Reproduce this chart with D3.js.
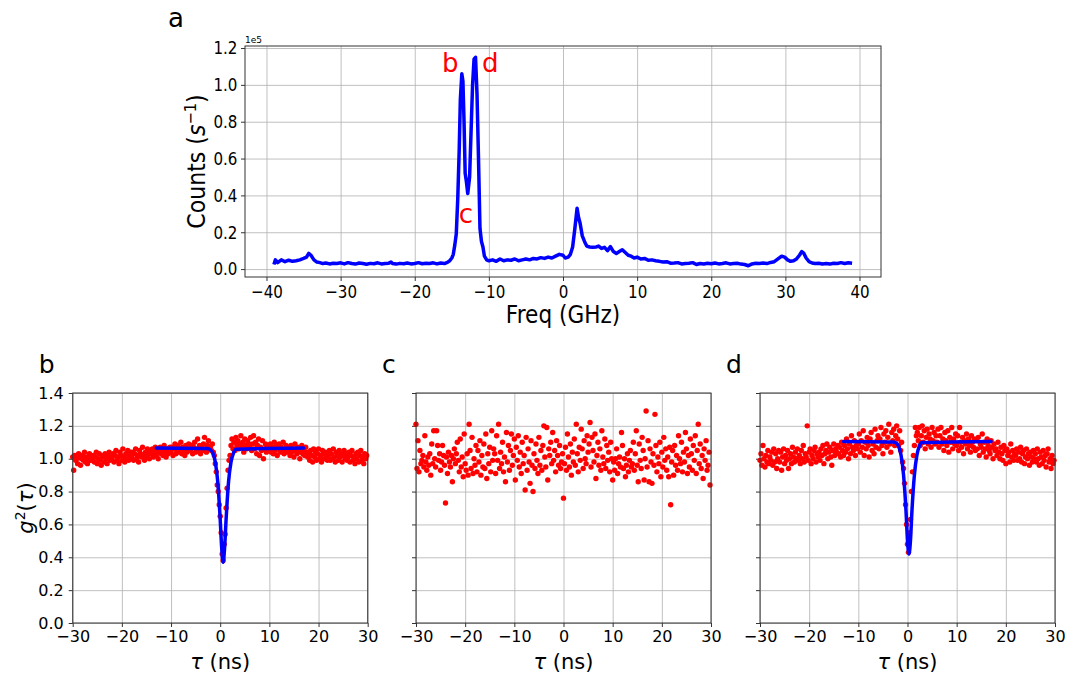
<!DOCTYPE html>
<html>
<head>
<meta charset="utf-8">
<script src="https://cdn.jsdelivr.net/npm/d3@7"></script>
<style>
  body { margin: 0; background: #fff; }
  svg text { font-family: "DejaVu Sans", sans-serif; fill: #000; }
  .grid line { stroke: #b0b0b0; stroke-width: 0.8; }
  .grid path { display: none; }
  .axis path { display: none; }
  .axis line { stroke: #333; }
</style>
</head>
<body>
<svg id="fig" width="1066" height="675"></svg>
<script>
// ---- panel a : spectrum (counts in units of 1e5 s^-1)
const freq = [-39.0, -38.8, -38.5, -38.0, -37.5, -37.0, -36.5, -36.0, -35.5, -35.0, -34.6, -34.3, -34.0, -33.6, -33.2, -32.8, -32.4, -32.0, -31.5, -31.0,
  -30.5, -30.0, -29.5, -29.0, -28.5, -28.0, -27.5, -27.0, -26.5, -26.0, -25.5, -25.0, -24.5, -24.0, -23.5, -23.2, -23.0, -22.5, -22.0, -21.5,
  -21.0, -20.5, -20.0, -19.5, -19.0, -18.5, -18.0, -17.5, -17.0, -16.5, -16.0, -15.6, -15.3, -15.0, -14.8, -14.6, -14.4, -14.2, -14.0, -13.85,
  -13.65, -13.5, -13.35, -13.2, -13.05, -12.85, -12.6, -12.4, -12.2, -12.0, -11.8, -11.6, -11.4, -11.2, -11.0, -10.8, -10.6, -10.3, -10.0, -9.5,
  -9.0, -8.5, -8.0, -7.5, -7.0, -6.5, -6.0, -5.5, -5.0, -4.5, -4.0, -3.5, -3.0, -2.5, -2.0, -1.5, -1.0, -0.5, 0.0, 0.3,
  0.7, 1.0, 1.3, 1.6, 1.9, 2.1, 2.3, 2.6, 2.9, 3.2, 3.6, 4.0, 4.5, 4.8, 5.2, 5.6, 6.0, 6.4, 6.8, 7.2,
  7.6, 8.0, 8.4, 8.8, 9.2, 9.6, 10.0, 10.5, 11.0, 11.5, 12.0, 12.5, 13.0, 13.5, 14.0, 14.5, 15.0, 15.5, 16.0, 16.5,
  17.0, 17.5, 18.0, 18.5, 19.0, 19.5, 20.0, 20.5, 21.0, 21.5, 22.0, 22.5, 23.0, 23.5, 24.0, 24.5, 25.0, 25.5, 26.0, 26.5,
  27.0, 27.5, 28.0, 28.5, 29.0, 29.5, 29.9, 30.3, 30.7, 31.1, 31.5, 31.9, 32.2, 32.5, 32.8, 33.2, 33.6, 34.0, 34.5, 35.0,
  35.5, 36.0, 36.5, 37.0, 37.5, 38.0, 38.5, 39.0];
const counts = [0.025, 0.05, 0.035, 0.05, 0.04, 0.048, 0.042, 0.045, 0.05, 0.058, 0.065, 0.085, 0.075, 0.05, 0.038, 0.035, 0.03, 0.033, 0.028, 0.032,
  0.03, 0.034, 0.028, 0.035, 0.03, 0.027, 0.033, 0.03, 0.026, 0.031, 0.029, 0.034, 0.028, 0.03, 0.032, 0.038, 0.03, 0.027, 0.031, 0.029,
  0.033, 0.028, 0.03, 0.035, 0.029, 0.032, 0.03, 0.034, 0.028, 0.033, 0.03, 0.036, 0.045, 0.06, 0.08, 0.13, 0.19, 0.38, 0.65, 0.92,
  1.06, 1.02, 0.8, 0.52, 0.48, 0.41, 0.5, 0.75, 1.0, 1.14, 1.15, 0.95, 0.6, 0.22, 0.15, 0.12, 0.07, 0.05, 0.045, 0.05,
  0.042, 0.055, 0.045, 0.05, 0.048, 0.055, 0.045, 0.05, 0.055, 0.05, 0.058, 0.055, 0.062, 0.058, 0.065, 0.06, 0.07, 0.08, 0.075, 0.06,
  0.065, 0.08, 0.12, 0.22, 0.33, 0.28, 0.25, 0.18, 0.15, 0.125, 0.12, 0.118, 0.12, 0.125, 0.112, 0.118, 0.1, 0.122, 0.095, 0.085,
  0.095, 0.105, 0.09, 0.075, 0.07, 0.06, 0.065, 0.055, 0.058, 0.048, 0.05, 0.045, 0.042, 0.038, 0.04, 0.032, 0.033, 0.035, 0.028, 0.03,
  0.032, 0.035, 0.025, 0.03, 0.028, 0.032, 0.029, 0.033, 0.028, 0.03, 0.034, 0.028, 0.03, 0.032, 0.027, 0.025, 0.018, 0.028, 0.032, 0.03,
  0.033, 0.03, 0.036, 0.04, 0.055, 0.07, 0.065, 0.05, 0.042, 0.045, 0.055, 0.075, 0.095, 0.085, 0.06, 0.04, 0.033, 0.03, 0.032, 0.028,
  0.03, 0.027, 0.032, 0.03, 0.035, 0.03, 0.034, 0.032];
const peakLabels = [
  {text: "b", f: -15.2, v: 1.07},
  {text: "d", f: -9.8, v: 1.07},
  {text: "c", f: -13.1, v: 0.25}
];

// ---- panels b, c, d : g2(tau), time bins of 0.2 ns from -30 ns
const tauBins = d3.range(300).map((i) => -30 + i * 0.2);
const g2B = [
  1.01, 0.93, 1.02, 0.99, 1.00, 0.97, 1.03, 1.01, 0.96, 1.00, 1.02, 0.99, 1.04, 0.98, 1.01, 0.97, 1.00, 1.03, 0.99, 1.02,
  0.99, 1.02, 0.98, 1.01, 1.04, 0.97, 1.00, 1.03, 0.99, 0.96, 1.01, 1.02, 0.98, 1.03, 1.00, 0.97, 1.02, 1.04, 0.99, 1.01,
  1.00, 1.03, 0.98, 1.02, 1.05, 0.99, 1.01, 0.97, 1.04, 1.02, 0.99, 1.06, 1.01, 0.98, 1.03, 1.00, 1.05, 0.99, 1.02, 1.04,
  1.01, 1.04, 0.99, 1.03, 1.06, 1.00, 1.02, 0.98, 1.05, 1.03, 1.01, 1.07, 1.02, 0.99, 1.04, 1.01, 1.06, 1.03, 1.00, 1.05,
  1.03, 1.06, 1.01, 1.04, 1.07, 1.02, 1.05, 1.00, 1.04, 1.07, 1.03, 1.05, 1.02, 1.08, 1.04, 1.01, 1.06, 1.03, 1.05, 1.07,
  1.04, 1.07, 1.02, 1.06, 1.09, 1.03, 1.05, 1.08, 1.04, 1.06, 1.10, 1.03, 1.07, 1.05, 1.02, 1.08, 1.04, 1.06, 1.09, 1.05,
  1.05, 1.08, 1.03, 1.07, 1.10, 1.04, 1.06, 1.12, 1.05, 1.08, 1.03, 1.07, 1.05, 1.09, 1.13, 1.06, 1.04, 1.08, 1.11, 1.06,
  1.07, 1.05, 1.09, 1.04, 1.02, 0.97, 0.92, 0.84, 0.80, 0.72, 0.65, 0.55, 0.42, 0.38, 0.48, 0.54, 0.70, 0.82, 0.93, 0.99,
  1.02, 1.08, 1.12, 1.06, 1.10, 1.05, 1.13, 1.08, 1.11, 1.06, 1.09, 1.14, 1.07, 1.10, 1.04, 1.12, 1.08, 1.06, 1.11, 1.09,
  1.07, 1.13, 1.05, 1.09, 1.14, 1.06, 1.10, 1.03, 1.08, 1.12, 1.02, 1.07, 1.05, 1.11, 1.00, 1.06, 1.09, 1.04, 1.08, 1.05,
  1.06, 1.09, 1.04, 1.07, 1.03, 1.10, 1.05, 1.08, 1.02, 1.06, 1.09, 1.04, 1.07, 1.05, 1.10, 1.03, 1.06, 1.08, 1.04, 1.07,
  1.05, 1.02, 1.08, 1.04, 1.06, 1.01, 1.09, 1.05, 1.03, 1.07, 1.04, 1.00, 1.06, 1.08, 1.03, 1.05, 1.02, 1.07, 1.04, 1.01,
  1.03, 0.99, 1.05, 1.02, 0.98, 1.06, 1.01, 1.04, 0.99, 1.03, 1.06, 1.00, 1.02, 0.98, 1.05, 1.03, 1.00, 1.04, 1.01, 0.99,
  1.02, 1.05, 0.99, 1.03, 1.00, 1.06, 1.01, 0.98, 1.04, 1.02, 0.99, 1.05, 1.01, 1.03, 0.98, 1.02, 1.05, 1.00, 1.03, 0.99,
  1.01, 1.04, 0.98, 1.02, 1.05, 0.99, 1.01, 0.97, 1.03, 1.00, 1.04, 0.98, 1.02, 1.05, 0.99, 1.01, 0.97, 1.03, 1.00, 1.02
];
const g2C = [
  1.21, 0.94, 1.11, 0.92, 1.05, 0.97, 0.99, 1.02, 0.95, 1.14, 0.98, 0.93, 1.01, 0.96, 1.03, 0.90, 1.09, 0.97, 1.17, 1.00,
  0.95, 1.17, 1.08, 0.99, 1.03, 0.93, 0.98, 1.08, 1.02, 0.96, 0.73, 1.01, 0.91, 1.04, 0.98, 0.95, 1.02, 0.86, 1.00, 1.06,
  0.97, 1.03, 1.10, 0.99, 0.92, 1.12, 0.95, 1.01, 0.89, 1.15, 0.97, 0.93, 1.03, 0.90, 1.21, 1.05, 0.94, 1.13, 0.91, 1.00,
  0.96, 1.08, 0.92, 1.05, 0.98, 1.11, 0.90, 1.02, 0.95, 1.09, 0.94, 1.15, 0.88, 1.03, 0.97, 1.07, 0.92, 1.17, 0.99, 1.06,
  1.03, 0.91, 1.14, 0.99, 1.21, 0.94, 1.04, 0.97, 1.10, 0.92, 1.01, 0.86, 1.16, 0.98, 1.08, 0.93, 1.05, 1.15, 0.96, 1.02,
  1.12, 0.87, 1.07, 0.99, 1.14, 0.95, 1.04, 0.91, 1.10, 0.97, 1.02, 0.81, 1.13, 0.93, 1.06, 0.98, 0.85, 1.11, 0.96, 0.80,
  1.03, 0.94, 1.09, 0.99, 0.91, 1.13, 0.96, 1.05, 0.93, 1.08, 1.20, 1.01, 0.95, 1.19, 0.87, 1.06, 1.02, 1.10, 0.97, 1.16,
  0.99, 1.05, 0.92, 1.11, 1.02, 0.96, 1.08, 0.94, 0.98, 1.03, 0.76, 0.97, 1.07, 0.93, 1.15, 1.01, 0.95, 1.09, 0.90, 1.04,
  0.98, 1.12, 0.96, 1.21, 1.03, 0.92, 1.07, 0.99, 1.18, 1.06, 0.94, 1.11, 1.00, 0.97, 1.14, 1.04, 1.09, 1.22, 0.95, 1.13,
  1.05, 0.98, 1.15, 0.88, 1.02, 1.10, 0.96, 1.06, 0.93, 1.17, 1.01, 0.97, 1.12, 0.94, 1.08, 0.99, 1.04, 0.92, 1.10, 1.00,
  0.87, 0.98, 0.93, 1.00, 1.06, 0.91, 0.97, 1.01, 0.95, 1.16, 1.08, 0.94, 1.00, 0.89, 0.96, 1.03, 0.92, 0.99, 1.05, 0.95,
  0.97, 1.10, 0.93, 1.03, 1.17, 0.96, 0.86, 1.09, 0.99, 0.94, 1.13, 1.05, 0.87, 1.00, 1.29, 0.95, 1.11, 0.86, 1.06, 0.98,
  0.85, 1.03, 0.96, 1.27, 1.08, 0.92, 1.01, 0.97, 1.10, 0.89, 1.04, 0.95, 1.13, 0.99, 1.06, 0.93, 1.01, 0.89, 1.07, 0.72,
  0.98, 1.05, 0.90, 1.08, 0.96, 1.02, 0.93, 1.14, 1.00, 0.97, 1.10, 0.92, 1.04, 0.98, 1.16, 1.06, 0.91, 1.02, 0.95, 1.12,
  1.03, 0.93, 1.08, 0.99, 1.14, 0.91, 1.05, 1.21, 0.97, 1.09, 0.94, 1.02, 0.88, 1.06, 0.99, 1.11, 0.93, 0.96, 1.04, 0.84
];
const g2D = [
  0.99, 1.03, 0.96, 1.08, 1.00, 0.95, 1.02, 0.98, 1.05, 0.97, 1.01, 0.99, 1.04, 0.96, 1.06, 0.98, 1.03, 0.94, 1.00, 1.05,
  0.98, 1.04, 0.93, 1.01, 1.06, 0.97, 1.02, 0.99, 1.05, 0.94, 1.00, 1.03, 0.97, 1.07, 1.01, 0.98, 1.04, 1.00, 1.06, 0.99,
  1.02, 0.97, 1.05, 1.00, 1.08, 0.98, 1.03, 1.01, 1.20, 0.99, 1.04, 1.06, 0.97, 1.02, 1.00, 1.05, 1.07, 0.98, 1.03, 1.01,
  1.04, 0.99, 1.06, 1.02, 1.08, 0.97, 1.03, 1.05, 1.09, 1.00, 1.04, 1.07, 1.01, 0.96, 1.05, 1.09, 1.02, 1.06, 1.04, 1.08,
  1.03, 1.07, 1.01, 1.10, 1.05, 1.02, 1.08, 1.04, 1.12, 1.06, 1.00, 1.09, 1.03, 1.14, 1.07, 1.05, 1.11, 1.02, 1.08, 1.06,
  1.09, 1.15, 1.04, 1.11, 1.07, 1.17, 1.02, 1.10, 1.06, 1.13, 1.08, 1.01, 1.12, 1.16, 1.05, 1.09, 1.03, 1.18, 1.07, 1.11,
  1.14, 1.06, 1.12, 1.19, 1.08, 1.03, 1.15, 1.10, 1.17, 1.07, 1.13, 1.21, 1.09, 1.04, 1.16, 1.11, 1.18, 1.08, 1.14, 1.20,
  1.12, 1.08, 1.17, 1.05, 1.10, 0.98, 0.94, 0.85, 0.72, 0.60, 0.48, 0.43, 0.55, 0.63, 0.80, 0.92, 1.02, 1.08, 1.19, 1.14,
  1.16, 1.11, 1.19, 1.08, 1.14, 1.20, 1.10, 1.17, 1.06, 1.13, 1.18, 1.09, 1.15, 1.12, 1.07, 1.19, 1.11, 1.16, 1.09, 1.14,
  1.10, 1.18, 1.07, 1.14, 1.19, 1.09, 1.12, 1.05, 1.16, 1.11, 1.08, 1.17, 1.04, 1.13, 1.10, 1.19, 1.06, 1.12, 1.09, 1.15,
  1.08, 1.14, 1.05, 1.19, 1.10, 1.07, 1.13, 1.03, 1.11, 1.09, 1.15, 1.06, 1.12, 1.08, 1.04, 1.14, 1.10, 1.07, 1.12, 1.05,
  1.11, 1.06, 1.13, 1.02, 1.09, 1.07, 1.15, 1.04, 1.10, 1.06, 1.01, 1.12, 1.08, 1.05, 1.03, 1.11, 1.07, 1.00, 1.09, 1.05,
  1.06, 1.02, 1.10, 1.04, 1.00, 1.07, 1.03, 0.99, 1.08, 1.05, 0.97, 1.06, 1.02, 1.04, 0.98, 1.09, 1.01, 1.05, 0.99, 1.03,
  1.02, 1.06, 0.99, 1.04, 1.00, 1.07, 0.98, 1.03, 1.05, 0.97, 1.01, 1.06, 1.00, 1.03, 0.96, 1.04, 1.01, 0.98, 1.05, 1.00,
  1.03, 0.98, 1.06, 1.00, 0.96, 1.04, 1.01, 0.97, 1.05, 0.99, 1.02, 0.95, 1.03, 1.06, 0.98, 1.00, 0.94, 1.02, 0.97, 0.99
];
// fitted curves
const fitTauB = [-13, -2.5, -2.0, -1.5, -1.0, -0.5, 0.0, 0.3, 0.6, 0.9, 1.2, 1.7, 2.2, 2.7, 3.2, 17];
const fitG2B = [1.065, 1.062, 1.055, 1.035, 0.98, 0.86, 0.63, 0.46, 0.37, 0.46, 0.63, 0.86, 0.98, 1.035, 1.058, 1.065];
const fitTauD = [-13, -2.8, -2.3, -1.8, -1.3, -0.8, -0.3, 0.0, 0.3, 0.6, 0.9, 1.4, 1.9, 2.4, 2.9, 17];
const fitG2D = [1.105, 1.102, 1.095, 1.075, 1.02, 0.90, 0.68, 0.50, 0.42, 0.50, 0.68, 0.90, 1.02, 1.075, 1.098, 1.105];

const freqTicks = [-40, -30, -20, -10, 0, 10, 20, 30, 40];
const countTicks = [0.0, 0.2, 0.4, 0.6, 0.8, 1.0, 1.2];
const tauTicks = [-30, -20, -10, 0, 10, 20, 30];
const g2Ticks = [0.0, 0.2, 0.4, 0.6, 0.8, 1.0, 1.2, 1.4];

const svg = d3.select('#fig');
svg.append('rect').attr('width', 1066).attr('height', 675).attr('fill', '#fff');

function drawFrame(g, width, height) {
  g.append('rect')
    .attr('width', width).attr('height', height)
    .attr('fill', 'none').attr('stroke', '#333').attr('stroke-width', 1);
}

function drawGrid(g, xscale, yscale, xticks, yticks, width, height) {
  g.append('g').attr('class', 'grid')
    .attr('transform', `translate(0,${height})`)
    .call(d3.axisBottom(xscale).tickValues(xticks).tickSize(-height).tickFormat(''));
  g.append('g').attr('class', 'grid')
    .call(d3.axisLeft(yscale).tickValues(yticks).tickSize(-width).tickFormat(''));
}

function createSpectrum() {
  const margin = {left: 245, top: 46};
  const width = 636, height = 231;
  // the top panel was drawn with a horizontally squeezed font
  const squeeze = 'scale(0.84,1)';
  const g = svg.append('g')
    .attr('transform', `translate(${margin.left},${margin.top})`);

  const xscale = d3.scaleLinear().domain([-42.9, 42.9]).range([0, width]);
  const yscale = d3.scaleLinear().domain([-0.043, 1.211]).range([height, 0]);

  drawGrid(g, xscale, yscale, freqTicks, countTicks, width, height);

  const gx = g.append('g').attr('class', 'axis')
    .attr('transform', `translate(0,${height})`)
    .call(d3.axisBottom(xscale).tickValues(freqTicks).tickSize(4).tickPadding(4));
  gx.selectAll('text').style('font-size', '18px').attr('transform', squeeze);
  const gy = g.append('g').attr('class', 'axis')
    .call(d3.axisLeft(yscale).tickValues(countTicks).tickFormat(d3.format('.1f')).tickSize(4).tickPadding(5));
  gy.selectAll('text').style('font-size', '18px').attr('transform', squeeze);

  const line = d3.line().x((d) => xscale(d[0])).y((d) => yscale(d[1]));
  g.append('path')
    .datum(freq.map((f, i) => [f, counts[i]]))
    .attr('d', line)
    .attr('fill', 'none').attr('stroke', '#0000ff')
    .attr('stroke-width', 3.5).attr('stroke-linejoin', 'round');

  g.selectAll('.peak').data(peakLabels).enter().append('text')
    .attr('class', 'peak')
    .attr('x', (d) => xscale(d.f)).attr('y', (d) => yscale(d.v))
    .attr('text-anchor', 'middle')
    .style('fill', '#ff0000').style('font-size', '26px')
    .text((d) => d.text);

  drawFrame(g, width, height);

  g.append('text').attr('x', 0).attr('y', -3).style('font-size', '9px').text('1e5');
  g.append('text').attr('transform', `translate(${width / 2},${height + 46}) scale(0.9,1)`)
    .attr('text-anchor', 'middle').style('font-size', '24px').text('Freq (GHz)');
  const yl = g.append('text')
    .attr('transform', `translate(-40,${height / 2}) rotate(-90) scale(0.92,1)`)
    .attr('text-anchor', 'middle').style('font-size', '24px');
  yl.append('tspan').text('Counts (');
  yl.append('tspan').style('font-style', 'italic').text('s');
  yl.append('tspan').attr('dy', -9).style('font-size', '16px').text('−1');
  yl.append('tspan').attr('dy', 9).text(')');

  svg.append('text').attr('x', 168).attr('y', 27).style('font-size', '26px').text('a');
}

function createG2Panel(left, letter, values, fitTau, fitG2, showY) {
  const top = 393;
  const width = 295, height = 230;
  const g = svg.append('g').attr('transform', `translate(${left},${top})`);

  const xscale = d3.scaleLinear().domain([-30, 30]).range([0, width]);
  const yscale = d3.scaleLinear().domain([0, 1.4]).range([height, 0]);

  drawGrid(g, xscale, yscale, tauTicks, g2Ticks, width, height);

  const gx = g.append('g').attr('class', 'axis')
    .attr('transform', `translate(0,${height})`)
    .call(d3.axisBottom(xscale).tickValues(tauTicks).tickSize(4).tickPadding(4));
  gx.selectAll('text').style('font-size', '16px');
  const gy = g.append('g').attr('class', 'axis')
    .call(d3.axisLeft(yscale).tickValues(g2Ticks).tickFormat(showY ? d3.format('.1f') : '').tickSize(4).tickPadding(5));
  gy.selectAll('text').style('font-size', '16px');

  const pts = tauBins.map((t, i) => ({t, v: values[i]}));
  g.selectAll('circle').data(pts).enter().append('circle')
    .attr('cx', (d) => xscale(d.t)).attr('cy', (d) => yscale(d.v))
    .attr('r', 2.7).attr('fill', '#ff0000');

  if (fitTau) {
    const line = d3.line().curve(d3.curveMonotoneX)
      .x((d) => xscale(d[0])).y((d) => yscale(d[1]));
    g.append('path')
      .datum(fitTau.map((t, i) => [t, fitG2[i]]))
      .attr('d', line)
      .attr('fill', 'none').attr('stroke', '#0000ff')
      .attr('stroke-width', 3.5).attr('stroke-linecap', 'round');
  }

  drawFrame(g, width, height);

  const xl = g.append('text').attr('x', width / 2).attr('y', height + 46)
    .attr('text-anchor', 'middle').style('font-size', '21px');
  xl.append('tspan').style('font-style', 'italic').text('τ');
  xl.append('tspan').text(' (ns)');

  if (showY) {
    const yl = g.append('text')
      .attr('transform', `translate(-40,${height / 2}) rotate(-90)`)
      .attr('text-anchor', 'middle').style('font-size', '21px');
    yl.append('tspan').style('font-style', 'italic').text('g');
    yl.append('tspan').attr('dy', -8).style('font-size', '14px').text('2');
    yl.append('tspan').attr('dy', 8).text('(');
    yl.append('tspan').style('font-style', 'italic').text('τ');
    yl.append('tspan').text(')');
  }

  g.append('text').attr('x', -34).attr('y', -20).style('font-size', '25px').text(letter);
}

createSpectrum();
createG2Panel(72.7, 'b', g2B, fitTauB, fitG2B, true);
createG2Panel(416, 'c', g2C, null, null, false);
createG2Panel(760, 'd', g2D, fitTauD, fitG2D, false);
</script>
</body>
</html>
